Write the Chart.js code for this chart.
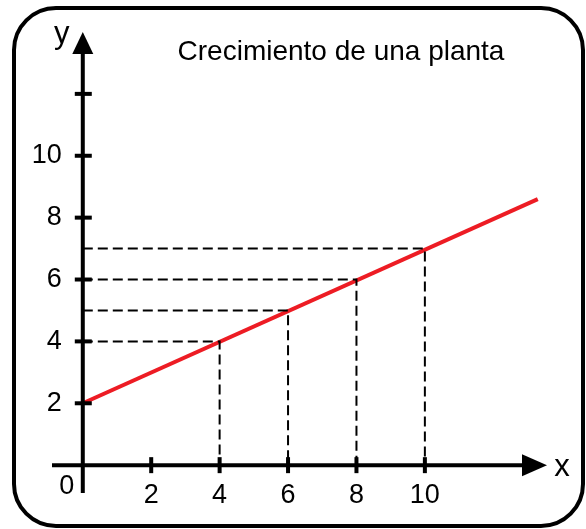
<!DOCTYPE html>
<html>
<head>
<meta charset="utf-8">
<script src="https://cdn.jsdelivr.net/npm/chart.js@4"></script>
<style>
  body { margin: 0; background: #fff; }
  #wrap { width: 586px; height: 529px; }
</style>
</head>
<body>
<div id="wrap"><canvas id="plantChart"></canvas></div>
<script>
// Chart data
const titleText = "Crecimiento de una planta";
const lineX = [0, 13.3];          // red growth line, start and end
const lineY = [2, 8.6];
const markX = [4, 6, 8, 10];      // points marked with dashed guides
const markY = [4, 5, 6, 7];
const xTicks = [2, 4, 6, 8, 10];
const xTickLabels = ["2", "4", "6", "8", "10"];
const yTicks = [2, 4, 6, 8, 10, 12];
const yTickLabels = ["2", "4", "6", "8", "10", ""];

const FONT = '"Liberation Sans", Arial, sans-serif';

// Build datasets from the arrays
const growthData = lineX.map((x, i) => ({ x: x, y: lineY[i] }));

const guideSets = markX.map((x, i) => ({
  data: [
    { x: 0, y: markY[i] },
    { x: x, y: markY[i] },
    { x: x, y: 0 },
  ],
  borderColor: "#000",
  borderWidth: 2,
  borderDash: [10, 5],
  pointRadius: 0,
  showLine: true,
  fill: false,
}));

function strokeLine(ctx, x1, y1, x2, y2) {
  ctx.beginPath();
  ctx.moveTo(x1, y1);
  ctx.lineTo(x2, y2);
  ctx.stroke();
}

// Rounded frame, axes with arrows, ticks and labels
const axesPlugin = {
  id: "plantAxes",
  beforeDraw(chart) {
    const ctx = chart.ctx;
    ctx.save();
    ctx.strokeStyle = "#000";
    ctx.lineWidth = 4;
    ctx.beginPath();
    ctx.roundRect(14, 8, 569, 518, 42);
    ctx.stroke();
    ctx.restore();
  },
  afterDatasetsDraw(chart) {
    const { ctx, scales } = chart;
    const xs = scales.x;
    const ys = scales.y;
    const x0 = xs.getPixelForValue(0);
    const y0 = ys.getPixelForValue(0);
    const left = xs.getPixelForValue(xs.min);
    const right = xs.getPixelForValue(xs.max);
    const bottom = ys.getPixelForValue(ys.min);
    const top = ys.getPixelForValue(ys.max);

    ctx.save();
    ctx.strokeStyle = "#000";
    ctx.fillStyle = "#000";
    ctx.lineWidth = 4;

    // x axis + arrow
    strokeLine(ctx, left, y0, right - 20, y0);
    ctx.beginPath();
    ctx.moveTo(right, y0);
    ctx.lineTo(right - 25, y0 - 11);
    ctx.lineTo(right - 25, y0 + 11);
    ctx.closePath();
    ctx.fill();

    // y axis + arrow
    strokeLine(ctx, x0, bottom, x0, top + 18);
    ctx.beginPath();
    ctx.moveTo(x0, top);
    ctx.lineTo(x0 - 10.5, top + 22);
    ctx.lineTo(x0 + 10.5, top + 22);
    ctx.closePath();
    ctx.fill();

    // tick marks
    xTicks.forEach((v) => {
      const px = xs.getPixelForValue(v);
      strokeLine(ctx, px, y0 - 8, px, y0 + 8);
    });
    yTicks.forEach((v) => {
      const py = ys.getPixelForValue(v);
      strokeLine(ctx, x0 - 8, py, x0 + 9, py);
    });

    // tick labels
    ctx.font = "27px " + FONT;
    ctx.textBaseline = "middle";
    ctx.textAlign = "center";
    xTicks.forEach((v, i) => {
      ctx.fillText(xTickLabels[i], xs.getPixelForValue(v), y0 + 30);
    });
    ctx.fillText("0", x0 - 16, y0 + 21);
    ctx.textAlign = "right";
    yTicks.forEach((v, i) => {
      ctx.fillText(yTickLabels[i], x0 - 21, ys.getPixelForValue(v));
    });

    // axis names
    ctx.font = "31px " + FONT;
    ctx.textAlign = "center";
    ctx.textBaseline = "alphabetic";
    ctx.fillText("x", right + 15, y0 + 11);
    ctx.fillText("y", x0 - 21, top + 11);

    // title
    ctx.font = "28px " + FONT;
    ctx.fillText(titleText, 341, 60);
    ctx.restore();
  },
};

new Chart(document.getElementById("plantChart"), {
  type: "scatter",
  data: {
    datasets: [
      ...guideSets,
      {
        data: growthData,
        borderColor: "#ed1c24",
        borderWidth: 4,
        pointRadius: 0,
        showLine: true,
        fill: false,
      },
    ],
  },
  options: {
    responsive: true,
    maintainAspectRatio: false,
    animation: false,
    layout: { padding: { left: 52, right: 39, top: 32, bottom: 36 } },
    plugins: {
      legend: { display: false },
      tooltip: { enabled: false },
      title: { display: false },
    },
    scales: {
      x: { type: "linear", display: false, min: -0.9, max: 13.57 },
      y: { type: "linear", display: false, min: -0.9, max: 14 },
    },
  },
  plugins: [axesPlugin],
});
</script>
</body>
</html>
